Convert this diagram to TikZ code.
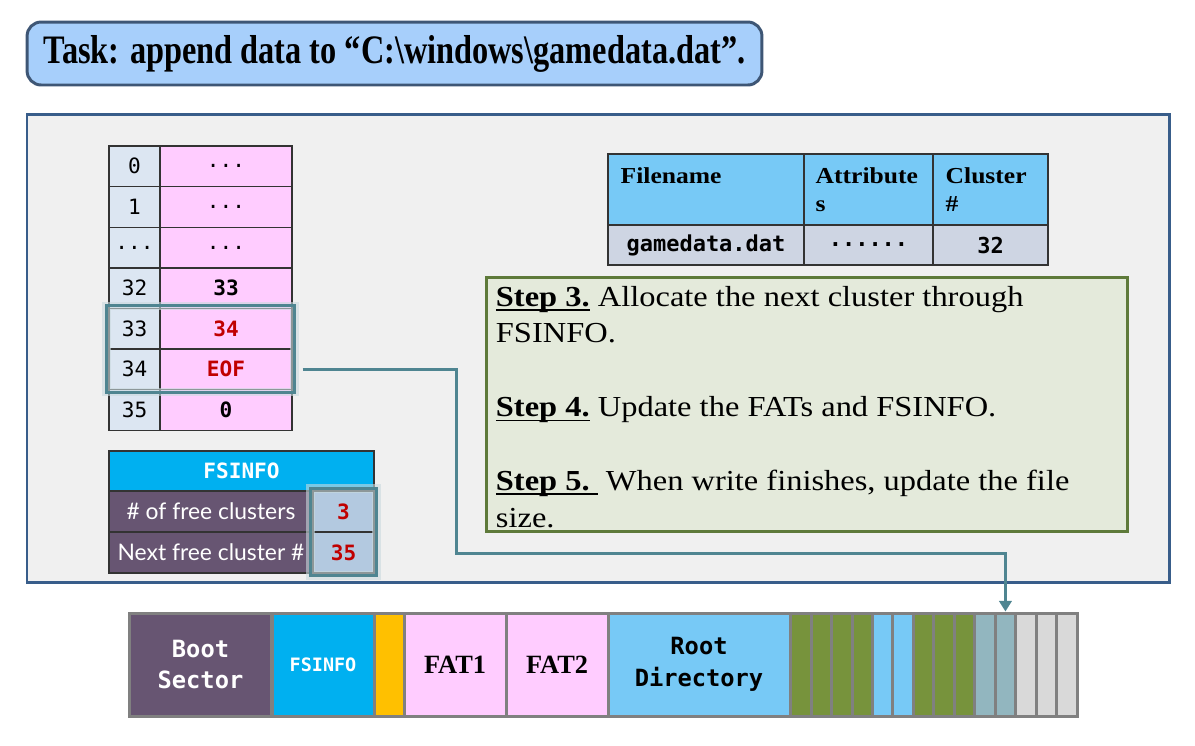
\documentclass[tikz,border=0pt]{standalone}
\usepackage{fontspec}
\setmainfont{Liberation Serif}
\setsansfont{Lato}
\setmonofont{DejaVu Sans Mono}
\newfontfamily\titlefont[FakeStretch=0.8]{Liberation Serif}
\newfontfamily\widefont[FakeStretch=1.12]{Liberation Serif}
\usetikzlibrary{fit,arrows.meta}

\definecolor{taskblue}{HTML}{A7CFFB}
\definecolor{taskline}{HTML}{3E5675}
\definecolor{panelgray}{HTML}{F0F0F0}
\definecolor{panelline}{HTML}{385D8A}
\definecolor{stepfill}{HTML}{E4EADB}
\definecolor{stepline}{HTML}{5E7A3A}
\definecolor{linkteal}{HTML}{4F8591}
\definecolor{fatpink}{HTML}{FFCCFF}
\definecolor{idxblue}{HTML}{DCE6F2}
\definecolor{bootpurple}{HTML}{675572}
\definecolor{infocyan}{HTML}{00B0F0}
\definecolor{dirblue}{HTML}{77C9F6}
\definecolor{rowgray}{HTML}{CED5E3}
\definecolor{valblue}{HTML}{B3C9E0}
\definecolor{datagreen}{HTML}{77933C}
\definecolor{newteal}{HTML}{92B6BF}
\definecolor{freegray}{HTML}{D9D9D9}
\definecolor{eofred}{HTML}{C00000}
\definecolor{resvyellow}{HTML}{FFC000}

\newsavebox\stepbox
\newcommand\steplbl[1]{\sbox\stepbox{\bfseries #1}%
  \makebox[0pt][l]{\rule[-2.6pt]{\wd\stepbox}{0.9pt}}\usebox\stepbox}

\tikzset{
  cell/.style={draw=black!80, line width=0.8pt, inner sep=0pt,
    font=\ttfamily\fontsize{12}{14}\selectfont},
  seg/.style={draw=gray, line width=1.7pt, inner sep=0pt, minimum height=2.06cm},
  hilite/.style={draw=linkteal, line width=1.7pt, inner sep=1pt,
    preaction={draw=linkteal!30, line width=5pt, opacity=0.6}},
  link/.style={draw=linkteal, line width=1.7pt, -{Triangle[width=7pt,length=6pt]}},
  headlbl/.style={anchor=north west, align=left, inner sep=0pt,
    font=\widefont\bfseries\fontsize{13}{16}\selectfont},
  infolbl/.style={cell, fill=bootpurple, text=white, font=\sffamily\fontsize{13}{15}\selectfont,
    minimum width=4.08cm, minimum height=0.82cm},
  infoval/.style={cell, fill=valblue, text=eofred, font=\ttfamily\bfseries\fontsize{12}{14}\selectfont,
    minimum width=1.22cm, minimum height=0.82cm},
  dirrow/.style={cell, fill=rowgray, minimum height=0.8cm,
    font=\ttfamily\bfseries\fontsize{12.5}{14}\selectfont}
}

\begin{document}
\begin{tikzpicture}[x=0.02cm, y=-0.02cm]
  \useasboundingbox (0,0) rectangle (1195,745);

  % task banner
  \node[draw=taskline, fill=taskblue, line width=1.7pt, rounded corners=8pt,
    minimum width=14.7cm, minimum height=1.26cm,
    font=\titlefont\bfseries\fontsize{23}{26}\selectfont] (task) at (394.5,53.5)
    {Task: append data to “C:\textbackslash windows\textbackslash gamedata.dat”.};

  \draw[draw=panelline, fill=panelgray, line width=1.7pt] (27,114) rectangle (1169,582);

  % FAT entries
  \foreach \k/\v [count=\r] in {0/{...},1/{...},{...}/{...},32/{\bfseries 33},
      33/{\bfseries\color{eofred}34},34/{\bfseries\color{eofred}EOF},35/{\bfseries 0}} {
    \node[cell, fill=idxblue, minimum width=1.02cm, minimum height=0.812cm]
      (fatk\r) at (134.5,{146+40.6*(\r-0.5)}) {\k};
    \node[cell, fill=fatpink, minimum width=2.64cm, minimum height=0.812cm]
      (fatv\r) at (226,{146+40.6*(\r-0.5)}) {\v};
  }
  \node[hilite, fit=(fatk5)(fatv6)] (fathl) {};

  % FSINFO sector
  \node[cell, fill=infocyan, text=white, font=\ttfamily\bfseries\fontsize{12}{14}\selectfont,
    minimum width=5.3cm, minimum height=0.8cm] (infohead) at (241.5,471) {FSINFO};
  \node[infolbl] (freelbl) at (211,511.5) {\# of free clusters};
  \node[infolbl] (nextlbl) at (211,552.5) {Next free cluster \#};
  \node[infoval] (freeval) at (343.5,511.5) {3};
  \node[infoval] (nextval) at (343.5,552.5) {35};
  \node[hilite, fit=(freeval)(nextval)] (infohl) {};

  % directory entry
  \node[cell, fill=dirblue, minimum width=3.92cm, minimum height=1.42cm] (hname) at (706,189.5) {};
  \node[cell, fill=dirblue, minimum width=2.58cm, minimum height=1.42cm] (hattr) at (868.5,189.5) {};
  \node[cell, fill=dirblue, minimum width=2.3cm, minimum height=1.42cm] (hclus) at (990.5,189.5) {};
  \node[headlbl] (hnametxt) at ([shift={(0.26cm,-0.28cm)}]hname.north west) {Filename};
  \node[headlbl] (hattrtxt) at ([shift={(0.24cm,-0.28cm)}]hattr.north west) {Attribute\\s};
  \node[headlbl] (hclustxt) at ([shift={(0.26cm,-0.28cm)}]hclus.north west) {Cluster\\\#};
  \node[dirrow, minimum width=3.92cm] (dname) at (706,245) {gamedata.dat};
  \node[dirrow, minimum width=2.58cm] (dattr) at (868.5,245) {......};
  \node[dirrow, minimum width=2.3cm] (dclus) at (990.5,245) {32};

  % steps
  \node[draw=stepline, fill=stepfill, line width=1.7pt, minimum width=12.84cm,
    minimum height=5.1cm] (steps) at (807,404.5) {};
  \node[anchor=north west, align=left, inner sep=0pt, font=\widefont\fontsize{16.5}{21}\selectfont]
    (stepstxt) at ([shift={(0.22cm,-0.2cm)}]steps.north west)
    {\steplbl{Step 3.} Allocate the next cluster through\\
     FSINFO.\\
     \mbox{}\\
     \steplbl{Step 4.} Update the FATs and FSINFO.\\
     \mbox{}\\
     \steplbl{Step 5.\ } When write finishes, update the file\\
     size.};

  % disk layout
  \node[seg, fill=bootpurple, text=white, align=center, minimum width=2.86cm,
    font=\ttfamily\bfseries\fontsize{13.5}{18}\selectfont] (boot) at (200.5,664.5) {Boot\\Sector};
  \node[seg, fill=infocyan, text=white, minimum width=2.04cm,
    font=\ttfamily\bfseries\fontsize{10.5}{12}\selectfont] (fsinfo) at (323,664.5) {FSINFO};
  \node[seg, fill=resvyellow, minimum width=0.6cm] (resv) at (389,664.5) {};
  \node[seg, fill=fatpink, minimum width=2.04cm,
    font=\bfseries\fontsize{15}{18}\selectfont] (fat1) at (455,664.5) {FAT1};
  \node[seg, fill=fatpink, minimum width=2.04cm,
    font=\bfseries\fontsize{15}{18}\selectfont] (fat2) at (557,664.5) {FAT2};
  \node[seg, fill=dirblue, align=center, minimum width=3.64cm,
    font=\ttfamily\bfseries\fontsize{13.5}{18}\selectfont] (rootdir) at (699,664.5) {Root\\Directory};
  \foreach \col [count=\i] in {datagreen,datagreen,datagreen,datagreen,dirblue,dirblue,
      datagreen,datagreen,datagreen,newteal,newteal,freegray,freegray,freegray}
    \node[seg, fill=\col, minimum width=0.409cm] (c\i) at ({790.7+20.45*\i-10.225},664.5) {};

  % link from the chain to its new cluster
  \coordinate (linkstart) at ([xshift=0.2cm]fatv6.east);
  \coordinate (linkbend) at (456,553);
  \draw[link] (linkstart) -| (linkbend) -| (c11.north);
\end{tikzpicture}
\end{document}
